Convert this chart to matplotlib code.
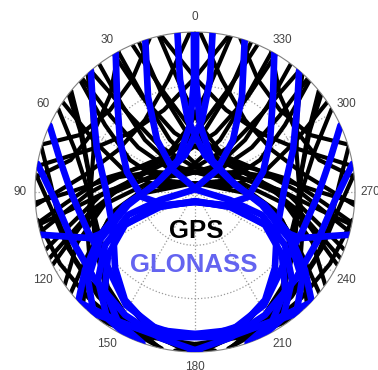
import numpy as np
import matplotlib
matplotlib.use('Agg')
import matplotlib.pyplot as plt

plt.rcParams['font.family'] = ['Liberation Sans', 'DejaVu Sans']

# ---------------- data (azimuth deg, elevation deg) ----------------
angle_ticks = list(range(0, 360, 30))
angle_labels = [str(a) for a in angle_ticks]

gps_az = [
    [28.7, 28.5, 25.7, 348.2, 278.8, 257.3, 241.1, 230.9],
    [331.3, 331.5, 334.3, 11.8, 81.2, 102.7, 118.9, 129.1],
    [13, 8, 355.7, 318.6, 278.5, 259.2, 245.5],
    [347, 352, 4.3, 41.4, 81.5, 100.8, 114.5],
    [358.2, 346.4, 325.2, 298.6, 278.8, 265.3],
    [1.8, 13.6, 34.8, 61.4, 81.2, 94.7],
    [343.5, 330.6, 314, 296.4, 287.3],
    [16.5, 29.4, 46, 63.6, 72.7],
    [45.8, 53.3, 63.8, 71.1, 328, 268.9, 252.2, 236.8, 224.5],
    [314.2, 306.7, 296.2, 288.9, 32, 91.1, 107.8, 123.2, 135.5],
    [20.5, 18.9, 9.2, 329.5, 286.2, 267.6, 255.2, 248.9],
    [339.5, 341.1, 350.8, 30.5, 73.8, 92.4, 104.8, 111.1],
    [36.8, 40, 43.9, 40.4, 329.5, 287.3, 271.3, 261.8, 258.2],
    [323.2, 320, 316.1, 319.6, 30.5, 72.7, 88.7, 98.2, 101.8],
    [58.7, 70.7, 88.9, 111.4, 130, 145.4, 159.4, 174.3, 187.2],
    [301.3, 289.3, 271.1, 248.6, 230, 214.6, 200.6, 185.7, 172.8],
    [83.7, 97.2, 113.8, 130.6, 147.3, 162.3, 177.5],
    [276.3, 262.8, 246.2, 229.4, 212.7, 197.7, 182.5],
    [52.2, 61.7, 78.4, 99.9, 120.4, 135.9, 151, 167.1],
    [307.8, 298.3, 281.6, 260.1, 239.6, 224.1, 209, 192.9],
    [143, 159.1, 180, 200.9, 217],
    [40.7, 40.5, 37.7, 0.2, 290.8, 269.3, 253.1, 242.9],
    [319.3, 319.5, 322.3, 359.8, 69.2, 90.7, 106.9, 117.1],
    [23, 18, 5.7, 328.6, 288.5, 269.2, 255.5],
    [337, 342, 354.3, 31.4, 71.5, 90.8, 104.5],
    [12.2, 0.4, 339.2, 312.6, 292.8, 279.3],
    [347.8, 359.6, 20.8, 47.4, 67.2, 80.7],
    [331.5, 318.6, 302, 284.4, 275.3],
    [28.5, 41.4, 58, 75.6, 84.7],
    [30.5, 28.9, 19.2, 339.5, 296.2, 277.6, 265.2, 258.9],
    [329.5, 331.1, 340.8, 20.5, 63.8, 82.4, 94.8, 101.1],
    [44.8, 48, 51.9, 48.4, 337.5, 295.3, 279.3, 269.8, 266.2],
    [315.2, 312, 308.1, 311.6, 22.5, 64.7, 80.7, 90.2, 93.8],
    [55.8, 63.3, 73.8, 81.1, 338, 278.9, 262.2, 246.8, 234.5],
    [304.2, 296.7, 286.2, 278.9, 22, 81.1, 97.8, 113.2, 125.5],
    [50.7, 62.7, 80.9, 103.4, 122, 137.4, 151.4, 166.3, 179.2],
    [309.3, 297.3, 279.1, 256.6, 238, 222.6, 208.6, 193.7, 180.8],
    [73.7, 87.2, 103.8, 120.6, 137.3, 152.3, 167.5],
    [286.3, 272.8, 256.2, 239.4, 222.7, 207.7, 192.5],
    [42.2, 51.7, 68.4, 89.9, 110.4, 125.9, 141, 157.1],
    [317.8, 308.3, 291.6, 270.1, 249.6, 234.1, 219, 202.9],
    [100, 118, 135, 152, 168],
    [260, 242, 225, 208, 192],
]
gps_el = [
    [0, 31.1, 57.5, 76.2, 64.4, 43.9, 22.5, 0],
    [0, 31.1, 57.5, 76.2, 64.4, 43.9, 22.5, 0],
    [0, 29.2, 52.2, 64.5, 51.9, 29.9, 0],
    [0, 29.2, 52.2, 64.5, 51.9, 29.9, 0],
    [0, 25.2, 40.7, 40.7, 27.4, 0],
    [0, 25.2, 40.7, 40.7, 27.4, 0],
    [0, 17.7, 23.6, 17.8, 0],
    [0, 17.7, 23.6, 17.8, 0],
    [0, 26.9, 49.3, 69.2, 84.7, 61.9, 38.6, 18.1, 0],
    [0, 26.9, 49.3, 69.2, 84.7, 61.9, 38.6, 18.1, 0],
    [0, 29.4, 54.7, 67.8, 57.8, 36.5, 17.3, 0],
    [0, 29.4, 54.7, 67.8, 57.8, 36.5, 17.3, 0],
    [0, 26.1, 49.4, 70, 78.9, 63.5, 42.2, 19, 0],
    [0, 26.1, 49.4, 70, 78.9, 63.5, 42.2, 19, 0],
    [0, 18.5, 29.8, 31.4, 26.1, 17.6, 10.1, 5.2, 0],
    [0, 18.5, 29.8, 31.4, 26.1, 17.6, 10.1, 5.2, 0],
    [0, 8.9, 11.9, 12.2, 9.8, 6.7, 0],
    [0, 8.9, 11.9, 12.2, 9.8, 6.7, 0],
    [0, 16.5, 28.6, 31.2, 25.5, 17.2, 8.9, 0],
    [0, 16.5, 28.6, 31.2, 25.5, 17.2, 8.9, 0],
    [0, 3.3, 4.5, 3.3, 0],
    [0, 31.1, 57.5, 76.2, 64.4, 43.9, 22.5, 0],
    [0, 31.1, 57.5, 76.2, 64.4, 43.9, 22.5, 0],
    [0, 29.2, 52.2, 64.5, 51.9, 29.9, 0],
    [0, 29.2, 52.2, 64.5, 51.9, 29.9, 0],
    [0, 25.2, 40.7, 40.7, 27.4, 0],
    [0, 25.2, 40.7, 40.7, 27.4, 0],
    [0, 17.7, 23.6, 17.8, 0],
    [0, 17.7, 23.6, 17.8, 0],
    [0, 29.4, 54.7, 67.8, 57.8, 36.5, 17.3, 0],
    [0, 29.4, 54.7, 67.8, 57.8, 36.5, 17.3, 0],
    [0, 26.1, 49.4, 70, 78.9, 63.5, 42.2, 19, 0],
    [0, 26.1, 49.4, 70, 78.9, 63.5, 42.2, 19, 0],
    [0, 26.9, 49.3, 69.2, 84.7, 61.9, 38.6, 18.1, 0],
    [0, 26.9, 49.3, 69.2, 84.7, 61.9, 38.6, 18.1, 0],
    [0, 18.5, 29.8, 31.4, 26.1, 17.6, 10.1, 5.2, 0],
    [0, 18.5, 29.8, 31.4, 26.1, 17.6, 10.1, 5.2, 0],
    [0, 8.9, 11.9, 12.2, 9.8, 6.7, 0],
    [0, 8.9, 11.9, 12.2, 9.8, 6.7, 0],
    [0, 16.5, 28.6, 31.2, 25.5, 17.2, 8.9, 0],
    [0, 16.5, 28.6, 31.2, 25.5, 17.2, 8.9, 0],
    [0, 4, 5.5, 4, 0],
    [0, 4, 5.5, 4, 0],
]

glonass_az = [
    [359.6, 359.5, 355.7, 332, 279.9, 259.5, 245.6, 234.7, 226.8],
    [0.4, 0.5, 4.3, 28, 80.1, 100.5, 114.4, 125.3, 133.2],
    [6.3, 7.6, 5.6, 344.9, 288.9, 259, 243.2, 230.6, 219.1],
    [353.7, 352.4, 354.4, 15.1, 71.1, 101, 116.8, 129.4, 140.9],
    [18.1, 26.3, 36.2, 45, 315, 257.1, 251.1, 239.5, 227.8, 214.9, 204],
    [341.9, 333.7, 323.8, 315, 45, 102.9, 108.9, 120.5, 132.2, 145.1, 156],
    [29.7, 39.4, 55.3, 73.6, 95.4, 113.4, 191.3, 249.4, 244.8, 234.1, 222.6, 210.6, 199.2],
    [330.3, 320.6, 304.7, 286.4, 264.6, 246.6, 168.7, 110.6, 115.2, 125.9, 137.4, 149.4, 160.8],
    [40.6, 51.2, 66.8, 88.7, 114.9, 133.5, 147, 160.5, 176.1, 191.7, 206.7, 221.2],
    [319.4, 308.8, 293.2, 271.3, 245.1, 226.5, 213, 199.5, 183.9, 168.3, 153.3, 138.8],
    [65.4, 76.7, 91.4, 110.5, 131.1, 148.6, 165, 180, 195.6, 210, 226.3],
    [294.6, 283.3, 268.6, 249.5, 228.9, 211.4, 195, 180, 164.4, 150, 133.7],
    [79.9, 93.3, 111.3, 131.3, 150.4, 166.5, 181.8],
    [280.1, 266.7, 248.7, 228.7, 209.6, 193.5, 178.2],
    [105.5, 113.7, 114.8, 113.2, 125.2, 180, 234.8, 246.8, 245.2, 246.3, 254.5],
]
glonass_el = [
    [0, 27, 52.2, 69.6, 67.2, 50, 31.3, 14.2, 0],
    [0, 27, 52.2, 69.6, 67.2, 50, 31.3, 14.2, 0],
    [0, 26.4, 49.3, 68.5, 69.2, 51.6, 30.1, 12.1, 0],
    [0, 26.4, 49.3, 68.5, 69.2, 51.6, 30.1, 12.1, 0],
    [0, 30.4, 53.8, 72.5, 88.4, 69.8, 50.2, 31.3, 16.3, 3.5, 0],
    [0, 30.4, 53.8, 72.5, 88.4, 69.8, 50.2, 31.3, 16.3, 3.5, 0],
    [0, 20.9, 38.6, 50.1, 60.1, 71.6, 84.3, 66, 46.5, 29.6, 15.1, 5, 0],
    [0, 20.9, 38.6, 50.1, 60.1, 71.6, 84.3, 66, 46.5, 29.6, 15.1, 5, 0],
    [0, 16.4, 30, 39.9, 39.2, 28, 17.6, 10.6, 8.3, 6.7, 6.2, 0],
    [0, 16.4, 30, 39.9, 39.2, 28, 17.6, 10.6, 8.3, 6.7, 6.2, 0],
    [0, 12, 20.8, 25.8, 25, 15.5, 9.6, 10.1, 6.5, 5.6, 0],
    [0, 12, 20.8, 25.8, 25, 15.5, 9.6, 10.1, 6.5, 5.6, 0],
    [0, 11.1, 15.7, 15.1, 10.4, 5.6, 0],
    [0, 11.1, 15.7, 15.1, 10.4, 5.6, 0],
    [0, 25.5, 49.7, 68.6, 78.3, 84.9, 78.3, 68.6, 49.7, 25.5, 0],
]

labels = ['GPS', 'GLONASS']
label_colors = ['#000000', '#6464F0']

# ---------------- figure ----------------
W, H = 378, 370
fig = plt.figure(figsize=(W / 100, H / 100), dpi=100)
fig.patch.set_facecolor('white')
ax = fig.add_axes([35 / W, 18 / H, 320 / W, 320 / H], projection='polar')
ax.set_theta_zero_location('N')
ax.set_theta_direction(1)
ax.set_axisbelow(True)


def draw_track(az, el, color, lw, z):
    th = np.deg2rad(np.asarray(az, dtype=float))
    r = 90.0 - np.asarray(el, dtype=float)
    ax.plot(th, r, color=color, lw=lw, solid_capstyle='round',
            solid_joinstyle='round', zorder=z)


for az, el in zip(gps_az, gps_el):
    draw_track(az, el, '#000000', 3.0, 2)
for az, el in zip(glonass_az, glonass_el):
    draw_track(az, el, '#0000FF', 4.8, 3)

ax.set_rlim(0, 90)
ax.set_thetagrids(angle_ticks, angle_labels)
ax.set_rgrids([30, 60], labels=['', ''])
ax.tick_params(axis='x', labelsize=8.5, labelcolor='#444444', pad=0.5)
ax.grid(True, color='#9a9a9a', linestyle=':', linewidth=0.9)
ax.spines['polar'].set_color('#808080')
ax.spines['polar'].set_linewidth(0.8)

fig.text(196.7 / W, 1 - 238.3 / H, labels[0], ha='center', va='baseline',
         fontsize=18.5, fontweight='bold', color=label_colors[0], zorder=10)
fig.text(194 / W, 1 - 271.7 / H, labels[1], ha='center', va='baseline',
         fontsize=18.5, fontweight='bold', color=label_colors[1], zorder=10)

fig.savefig('out.png', dpi=100, facecolor='white')
